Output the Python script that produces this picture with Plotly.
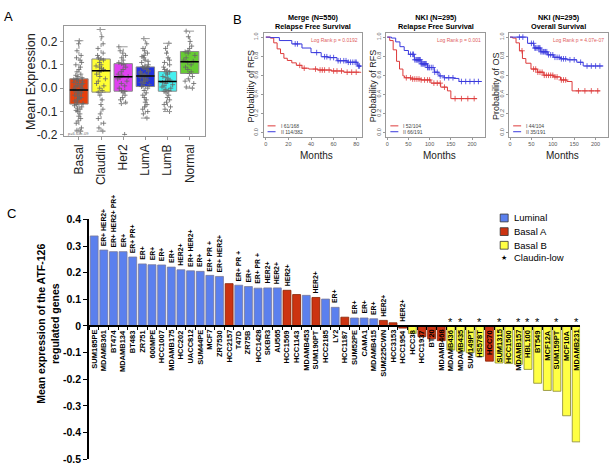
import plotly.graph_objects as go

W, H = 611, 472
FONT = "Liberation Sans, Arial, sans-serif"

# ---------------- Panel A data ----------------
subtypes = ["Basal", "Claudin", "Her2", "LumA", "LumB", "Normal"]
box_q1 = [-0.068, -0.017, -0.013, 0.007, -0.013, 0.063]
box_median = [-0.008, 0.075, 0.049, 0.052, 0.029, 0.113]
box_q3 = [0.040, 0.125, 0.105, 0.091, 0.071, 0.157]
box_lower = [-0.184, -0.184, -0.066, -0.128, -0.100, 0.000]
box_upper = [0.203, 0.251, 0.177, 0.212, 0.192, 0.244]
basal_pts = [0.203, 0.19, 0.16, 0.14, 0.13, 0.12, 0.11, 0.10, 0.09, 0.08, 0.07, 0.06, 0.055, 0.05,
             0.045, 0.04, 0.038, 0.035, 0.03, 0.03, 0.025, 0.02, 0.02, 0.015, 0.01, 0.01, 0.005, 0.0,
             0.0, -0.005, -0.008, -0.01, -0.015, -0.02, -0.02, -0.025, -0.03, -0.035, -0.04, -0.04,
             -0.045, -0.05, -0.055, -0.06, -0.065, -0.07, -0.075, -0.08, -0.085, -0.09, -0.095,
             -0.10, -0.11, -0.12, -0.13, -0.14, -0.15, -0.17, -0.18, -0.184]
claudin_pts = [0.251, 0.22, 0.19, 0.17, 0.15, 0.14, 0.13, 0.125, 0.12, 0.11, 0.10, 0.095, 0.09,
               0.085, 0.08, 0.075, 0.07, 0.06, 0.05, 0.04, 0.03, 0.02, 0.01, 0.0, -0.01, -0.017,
               -0.03, -0.05, -0.07, -0.09, -0.11, -0.13, -0.15, -0.17, -0.184]
her2_pts = [0.177, 0.16, 0.15, 0.14, 0.13, 0.12, 0.11, 0.105, 0.10, 0.09, 0.08, 0.07, 0.06, 0.055,
            0.05, 0.045, 0.04, 0.03, 0.02, 0.01, 0.0, -0.01, -0.013, -0.02, -0.03, -0.04, -0.05,
            -0.06, -0.066, -0.198]
luma_pts = [0.212, 0.19, 0.17, 0.16, 0.15, 0.14, 0.135, 0.13, 0.12, 0.115, 0.11, 0.10, 0.095, 0.09,
            0.09, 0.085, 0.08, 0.075, 0.07, 0.07, 0.065, 0.06, 0.06, 0.055, 0.052, 0.05, 0.045,
            0.04, 0.04, 0.035, 0.03, 0.03, 0.025, 0.02, 0.015, 0.01, 0.007, 0.0, -0.01, -0.02,
            -0.03, -0.04, -0.05, -0.06, -0.07, -0.08, -0.09, -0.10, -0.11, -0.128]
lumb_pts = [0.192, 0.17, 0.15, 0.13, 0.12, 0.11, 0.10, 0.09, 0.08, 0.075, 0.07, 0.065, 0.06, 0.05,
            0.045, 0.04, 0.035, 0.03, 0.029, 0.025, 0.02, 0.015, 0.01, 0.005, 0.0, -0.005, -0.01,
            -0.013, -0.02, -0.03, -0.04, -0.05, -0.06, -0.07, -0.08, -0.09, -0.10]
normal_pts = [0.244, 0.22, 0.20, 0.18, 0.17, 0.16, 0.155, 0.15, 0.14, 0.13, 0.12, 0.115, 0.11,
              0.10, 0.09, 0.08, 0.07, 0.063, 0.05, 0.04, 0.03, 0.02, 0.005, 0.0]
subtype_points = [basal_pts, claudin_pts, her2_pts, luma_pts, lumb_pts, normal_pts]
pval_text = "p=6.63e-09"

# ---------------- Panel B data (Kaplan-Meier) ----------------
km_titles = ["Merge (N=550)<br>Relapse Free Survival", "NKI (N=295)<br>Relapse Free Survival",
             "NKI (N=295)<br>Overall Survival"]
km_ylabels = ["Probability of RFS", "Probability of RFS", "Probability of OS"]
km_logrank = ["Log Rank p = 0.0192", "Log Rank p = 0.001", "Log Rank p = 4.07e-07"]
km_legend_red = ["I 61/168", "I 52/104", "I 44/104"]
km_legend_blue = ["II 114/382", "II 66/191", "II 35/191"]
km_xticks = [[0, 20, 40, 60, 80], [0, 50, 100, 150, 200], [0, 50, 100, 150, 200]]

km1_red_t = [0, 4, 7, 10, 13, 16, 19, 23, 27, 32, 38, 46, 58, 69, 84]
km1_red_s = [1.0, 0.99, 0.94, 0.877, 0.828, 0.779, 0.756, 0.731, 0.705, 0.675, 0.666, 0.656, 0.646, 0.633, 0.627]
km1_blue_t = [0, 4, 12, 23, 32, 40, 49, 55, 63, 72, 81, 84]
km1_blue_s = [1.0, 0.995, 0.964, 0.929, 0.886, 0.838, 0.795, 0.786, 0.753, 0.737, 0.698, 0.688]
km1_red_cens = [30, 34, 44, 48, 50, 52, 56, 60, 63, 67, 72, 76, 80]
km1_blue_cens = [26, 28, 45, 52, 54, 57, 60, 64, 66, 69, 71, 73, 75, 77, 79, 80, 82, 83]

km2_red_t = [0, 6, 14, 22, 29, 37, 41, 56, 80, 103, 126, 142, 150, 212]
km2_red_s = [1.0, 0.964, 0.867, 0.747, 0.666, 0.594, 0.575, 0.562, 0.552, 0.519, 0.477, 0.438, 0.357, 0.357]
km2_blue_t = [0, 10, 20, 30, 40, 50, 64, 80, 95, 111, 122, 134, 157, 169, 223]
km2_blue_s = [1.0, 0.99, 0.95, 0.90, 0.86, 0.82, 0.763, 0.721, 0.682, 0.633, 0.594, 0.575, 0.568, 0.536, 0.536]
km2_red_cens = [45, 55, 60, 65, 70, 75, 80, 88, 95, 100, 110, 118, 125, 135, 160, 175, 190, 205]
km2_blue_cens = [55, 60, 62, 65, 68, 70, 72, 74, 76, 78, 80, 82, 84, 86, 88, 90, 92, 95, 98, 100,
                 104, 108, 112, 118, 125, 135, 145, 155, 175, 185, 195, 205, 215]

km3_red_t = [0, 6, 14, 22, 29, 37, 49, 64, 79, 102, 118, 133, 145, 210]
km3_red_s = [1.0, 0.99, 0.94, 0.857, 0.776, 0.727, 0.666, 0.633, 0.601, 0.584, 0.552, 0.536, 0.438, 0.438]
km3_blue_t = [0, 25, 41, 56, 72, 87, 102, 118, 133, 156, 171, 218]
km3_blue_s = [1.0, 1.0, 0.935, 0.886, 0.847, 0.815, 0.789, 0.773, 0.763, 0.737, 0.698, 0.698]
km3_red_cens = [28, 55, 60, 65, 70, 75, 80, 85, 90, 95, 100, 105, 110, 120, 125, 130, 160, 175, 190, 205]
km3_blue_cens = [22, 30, 50, 55, 58, 60, 63, 66, 68, 70, 72, 75, 78, 80, 83, 86, 90, 95, 100, 105,
                 110, 115, 120, 125, 130, 140, 150, 165, 180, 190, 200, 210]

# ---------------- Panel C data ----------------
cell_lines = ["SUM185PE", "MDAMB361", "BT474", "MDAMB134", "BT483", "ZR751", "600MPE", "HCC1007",
              "MDAMB175", "HCC202", "UACC812", "SUM44PE", "MCF7", "ZR7530", "HCC2157", "T47D",
              "ZR75B", "HCC1428", "SKBR3", "AU565", "HCC1569", "HCC1143", "MDAMB453", "SUM190PT",
              "HCC2185", "LY2", "HCC1187", "SUM52PE", "CAMA1", "MDAMB415", "SUM225CWN", "HCC3153",
              "HCC1954", "HCC38", "HCC1937", "BT20", "MDAMB468", "MDAMB436", "MDAMB435", "SUM149PT",
              "HS578T", "HCC70", "SUM1315", "HCC1500", "MDAMB157", "HBL100", "BT549", "MCF12A",
              "SUM159PT", "MCF10A", "MDAMB231"]
mean_expr = [0.338, 0.285, 0.279, 0.279, 0.259, 0.233, 0.230, 0.229, 0.221, 0.211, 0.207, 0.205,
             0.190, 0.186, 0.159, 0.153, 0.148, 0.142, 0.143, 0.143, 0.134, 0.118, 0.115, 0.107,
             0.101, 0.070, 0.033, 0.030, 0.030, 0.027, 0.021, 0.012, -0.008, -0.028, -0.040,
             -0.048, -0.055, -0.090, -0.095, -0.100, -0.115, -0.132, -0.139, -0.141, -0.144,
             -0.163, -0.215, -0.242, -0.245, -0.337, -0.435]
subtype_c = (["Luminal"] * 14 + ["Basal A"] + ["Luminal"] * 5 + ["Basal A", "Basal A", "Luminal",
             "Basal A", "Luminal", "Luminal", "Basal A", "Luminal", "Luminal", "Luminal", "Basal A",
             "Basal A", "Basal A", "Basal B", "Basal A", "Basal A", "Basal A", "Basal B", "Basal B",
             "Basal B", "Basal B", "Basal A"] + ["Basal B"] * 9)
receptor_tags = ["", "ER+ HER2+", "ER+ HER2+ PR+", "ER+", "ER+ PR+", "ER+", "ER+", "ER+", "ER+",
                 "HER2+", "ER+ HER2+", "ER+", "ER+ PR +", "ER+ HER2+", "", "ER+ PR +", "ER+",
                 "ER+ PR +", "HER2+", "HER2+", "HER2+", "", "", "HER2+", "", "ER+", "", "ER+", "ER+",
                 "ER+", "HER2+", "", "HER2+"] + [""] * 18
claudin_low = ["MDAMB436", "MDAMB435", "HS578T", "SUM1315", "MDAMB157", "HBL100", "BT549",
               "SUM159PT", "MDAMB231"]
legend_names = ["Luminal", "Basal A", "Basal B"]
c_yticks = [-0.5, -0.4, -0.3, -0.2, -0.1, 0, 0.1, 0.2, 0.3, 0.4]
c_yticklabels = ["-0.5", "-0.4", "-0.3", "-0.2", "-0.1", "0", "0.1", "0.2", "0.3", "0.4"]

# ---------------- styles ----------------
box_colors = ["#E8400C", "#FFFF33", "#E040F0", "#2233E0", "#44F0F0", "#66CC33"]
KM_RED, KM_BLUE = "#DD3a3a", "#3a3aDD"
C_FILL = {"Luminal": "#5B80EE", "Basal A": "#CC3311", "Basal B": "#FFFF44"}
C_LINE = {"Luminal": "#7a7a9a", "Basal A": "#882200", "Basal B": "#888833"}


def xd(a, b):
    return [a / W, b / W]


def yd(top, bottom):
    return [1 - bottom / H, 1 - top / H]


def px(x):
    return x / W


def py(y):
    return 1 - y / H


def note(x, y, text, size, color="black", xanchor="center", yanchor="middle", angle=0, **kw):
    d = dict(x=px(x), y=py(y), xref="paper", yref="paper", text=text, showarrow=False,
             xanchor=xanchor, yanchor=yanchor, textangle=angle, font=dict(size=size, color=color))
    d.update(kw)
    return d


fig = go.Figure()
ann = []
shapes = []

# ================= Panel A =================
BW = 0.83
for i in range(len(subtypes)):
    fig.add_trace(go.Box(x=[i], q1=[box_q1[i]], median=[box_median[i]], q3=[box_q3[i]],
                         lowerfence=[box_q1[i]], upperfence=[box_q3[i]], width=BW,
                         fillcolor=box_colors[i], line=dict(color="#8a8a8a", width=1),
                         boxpoints=False, xaxis="x", yaxis="y", hoverinfo="skip"))
for i in range(len(subtypes)):
    fig.add_trace(go.Scatter(x=[i, i, None, i, i],
                             y=[box_q3[i], box_upper[i], None, box_q1[i], box_lower[i]],
                             mode="lines", line=dict(color="#8a8a8a", width=1, dash="dot"),
                             xaxis="x", yaxis="y", hoverinfo="skip"))
    fig.add_trace(go.Scatter(x=[i - 0.2, i + 0.2, None, i - 0.2, i + 0.2],
                             y=[box_upper[i], box_upper[i], None, box_lower[i], box_lower[i]],
                             mode="lines", line=dict(color="#9a9a9a", width=1),
                             xaxis="x", yaxis="y", hoverinfo="skip"))
for i in range(len(subtypes)):
    fig.add_trace(go.Box(y=subtype_points[i], x0=i, boxpoints="all", jitter=0.65, pointpos=0,
                         width=BW, fillcolor="rgba(0,0,0,0)",
                         line=dict(color="rgba(0,0,0,0)", width=0),
                         marker=dict(symbol="cross-thin", size=3.5, color="#666",
                                     line=dict(color="#666", width=0.8)),
                         xaxis="x", yaxis="y", hoverinfo="skip"))
for i in range(len(subtypes)):
    fig.add_trace(go.Scatter(x=[i - BW / 2, i + BW / 2], y=[box_median[i], box_median[i]],
                             mode="lines", line=dict(color="black", width=1.5),
                             xaxis="x", yaxis="y", hoverinfo="skip"))
ann.append(dict(x=0, y=-0.195, xref="x", yref="y", text=pval_text, showarrow=False,
                xanchor="center", yanchor="middle", font=dict(size=4, color="#666")))

# ================= Panel B =================
km_data = [
    (km1_red_t, km1_red_s, km1_blue_t, km1_blue_s, km1_red_cens, km1_blue_cens),
    (km2_red_t, km2_red_s, km2_blue_t, km2_blue_s, km2_red_cens, km2_blue_cens),
    (km3_red_t, km3_red_s, km3_blue_t, km3_blue_s, km3_red_cens, km3_blue_cens),
]


def step_at(ts, ss, t):
    v = ss[0]
    for tt, s in zip(ts, ss):
        if tt <= t:
            v = s
    return v


KM_FR = [(263, 362), (386, 485), (509, 608)]
KM_TOP, KM_BOT = 28, 134
for k, (rt, rs, bt, bs, rc, bc) in enumerate(km_data):
    xa, ya = f"x{k + 2}", f"y{k + 2}"
    for (t, s, cens, col) in [(rt, rs, rc, KM_RED), (bt, bs, bc, KM_BLUE)]:
        fig.add_trace(go.Scatter(x=t, y=s, mode="lines", line=dict(color=col, width=1, shape="hv"),
                                 xaxis=xa, yaxis=ya, hoverinfo="skip"))
        fig.add_trace(go.Scatter(x=cens, y=[step_at(t, s, c) for c in cens], mode="markers",
                                 marker=dict(symbol="cross-thin", size=4, color=col,
                                             line=dict(color=col, width=0.8)),
                                 xaxis=xa, yaxis=ya, hoverinfo="skip"))
    L, R = KM_FR[k]
    ann.append(note((L + R) / 2, 16, "<b>" + km_titles[k] + "</b>", 7.3))
    ann.append(note(R - 2, 35, km_logrank[k], 5, "#E06060", xanchor="right"))
    ann.append(note(L - 13, 82, km_ylabels[k], 9, "#222", angle=-90))
    ann.append(note((L + R) / 2 + 4, 153, "Months", 10, "#222"))
    for (yy, col, txt) in [(123, KM_RED, km_legend_red[k]), (129, KM_BLUE, km_legend_blue[k])]:
        shapes.append(dict(type="line", xref="paper", yref="paper", x0=px(L + 4), x1=px(L + 12),
                           y0=py(yy), y1=py(yy), line=dict(color=col, width=1)))
        ann.append(note(L + 15, yy, txt, 5, "#444", xanchor="left"))

# ================= Panel C =================
n = len(cell_lines)
fig.add_trace(go.Bar(x=list(range(n)), y=mean_expr, width=0.82,
                     marker=dict(color=[C_FILL[s] for s in subtype_c],
                                 line=dict(color=[C_LINE[s] for s in subtype_c], width=0.8)),
                     xaxis="x5", yaxis="y5", hoverinfo="skip"))
for i, name in enumerate(cell_lines):
    ann.append(dict(x=i, y=0, xref="x5", yref="y5", text="<b>" + name + "</b>", textangle=-90,
                    xanchor="center", yanchor="top", yshift=-2, showarrow=False,
                    font=dict(size=7.5, color="black")))
    if receptor_tags[i]:
        ann.append(dict(x=i, y=max(mean_expr[i], 0), xref="x5", yref="y5",
                        text="<b>" + receptor_tags[i] + "</b>", textangle=-90, xanchor="center",
                        yanchor="bottom", yshift=2, showarrow=False, font=dict(size=6.8, color="black")))
    if name in claudin_low:
        ann.append(dict(x=i, y=0, xref="x5", yref="y5", text="*", xanchor="center",
                        yanchor="bottom", yshift=-4, showarrow=False, font=dict(size=11, color="black")))

# legend for C
for j, nm in enumerate(legend_names):
    yc = 217.5 + 14 * j
    shapes.append(dict(type="rect", xref="paper", yref="paper", x0=px(500), x1=px(508),
                       y0=py(yc + 4), y1=py(yc - 4), fillcolor=C_FILL[nm],
                       line=dict(color="#333", width=0.8)))
    ann.append(note(511.5, yc, nm, 9.5, xanchor="left"))
ann.append(note(504, 258.5, "★", 7))
ann.append(note(511.5, 258.5, "Claudin-low", 9.5, xanchor="left"))

ann.append(note(47, 326, "<b>Mean expression of the ATF-126<br>regulated genes</b>", 10.5, angle=-90))
ann.append(note(30, 77, "Mean Expression", 12.5, "#222", angle=-90))

# panel letters
for (lx, ly, t) in [(8, 11, "A"), (237, 14, "B"), (11, 213, "C")]:
    ann.append(note(lx, ly, t, 13))

# ================= Axes =================
axA = dict(showgrid=False, zeroline=False, showline=True, mirror=True, linecolor="#999",
           linewidth=1, ticks="outside", ticklen=3, tickcolor="#999")
fig.update_layout(
    xaxis=dict(domain=xd(63, 204), range=[-0.68, 5.68], tickvals=list(range(6)), ticktext=subtypes,
               tickangle=-90, tickfont=dict(size=12, color="#222"), anchor="y", **axA),
    yaxis=dict(domain=yd(21, 133), range=[-0.203, 0.264], tickvals=[-0.2, -0.1, 0, 0.1, 0.2],
               ticktext=["-0.2", "-0.1", "0.0", "0.1", "0.2"], tickfont=dict(size=12, color="#222"),
               anchor="x", **axA),
)
axB = dict(axA)
axB["ticklen"] = 2
for k in range(3):
    L, R = KM_FR[k]
    xmax = [85.5, 231, 229][k]
    fig.layout[f"xaxis{k + 2}"] = dict(domain=xd(L, R), range=[-2, xmax], tickvals=km_xticks[k],
                                      tickfont=dict(size=5.5, color="#555"), anchor=f"y{k + 2}", **axB)
    fig.layout[f"yaxis{k + 2}"] = dict(domain=yd(KM_TOP, KM_BOT), range=[-0.04, 1.04],
                                      tickvals=[0, 0.2, 0.4, 0.6, 0.8, 1.0],
                                      ticktext=["0.0", "0.2", "0.4", "0.6", "0.8", "1.0"],
                                      tickangle=-90, tickfont=dict(size=5.5, color="#555"),
                                      anchor=f"x{k + 2}", **axB)

cy0, cy1 = yd(219, 465)
cymin, cymax = -0.5, 0.4
zero_pos = cy0 + (0 - cymin) / (cymax - cymin) * (cy1 - cy0)
fig.update_layout(
    xaxis5=dict(domain=xd(88, 580), range=[-0.55, 50.4], anchor="free", position=zero_pos,
                showline=True, linecolor="black", linewidth=1.5, ticks="outside", ticklen=3,
                tickcolor="black", tickwidth=1, tickvals=[i + 0.5 for i in range(-1, n)],
                showticklabels=False, showgrid=False, zeroline=False),
    yaxis5=dict(domain=[cy0, cy1], range=[cymin, cymax], anchor="x5", tickvals=c_yticks,
                ticktext=["<b>" + t + "</b>" for t in c_yticklabels], showline=True,
                linecolor="black", linewidth=1.5, ticks="outside", ticklen=4, tickcolor="black",
                tickfont=dict(size=10.5, color="black"), showgrid=False, zeroline=False),
)

fig.update_layout(width=W, height=H, margin=dict(l=0, r=0, t=0, b=0), paper_bgcolor="white",
                  plot_bgcolor="white", showlegend=False, boxmode="overlay",
                  font=dict(family=FONT), annotations=ann, shapes=shapes)
fig.write_html("out.html", config={"displayModeBar": False},
               post_script="document.body.style.margin='0px';document.body.style.padding='0px';"
                           "document.documentElement.style.overflow='hidden';")
